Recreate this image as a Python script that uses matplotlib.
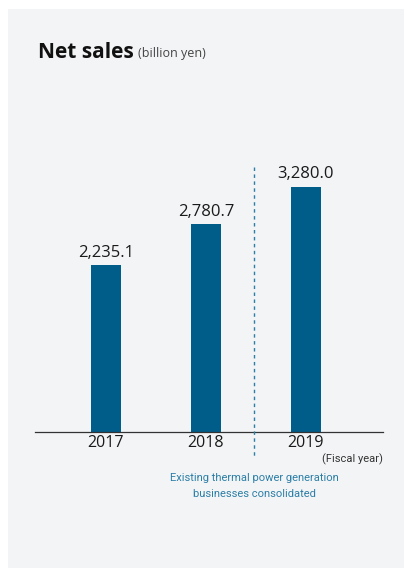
import matplotlib
matplotlib.use("Agg")
import matplotlib.pyplot as plt
from matplotlib.patches import Rectangle
from matplotlib import font_manager

years = ["2017", "2018", "2019"]
net_sales = [2235.1, 2780.7, 3280.0]
value_labels = ["2,235.1", "2,780.7", "3,280.0"]
note_lines = ["Existing thermal power generation", "businesses consolidated"]

BAR = "#005d8a"
NOTE = "#2b7ea6"
W, H = 405, 569

plt.rcParams['font.family'] = ['Open Sans', 'DejaVu Sans']

# narrow face for the small notes, if one is around
names = {f.name for f in font_manager.fontManager.ttflist}
narrow = "Liberation Sans Narrow" if "Liberation Sans Narrow" in names else "Roboto"
cond = [narrow, 'DejaVu Sans']
note_size = 9 if narrow == "Liberation Sans Narrow" else 8

fig = plt.figure(figsize=(W / 100, H / 100), dpi=100)
fig.patch.set_facecolor("white")
fig.patches.append(Rectangle((8 / W, 1 - 568 / H), 396 / W, 559 / H,
                             transform=fig.transFigure, facecolor="#f3f4f6",
                             edgecolor="none", zorder=-5))

ax = fig.add_axes([35 / W, 137 / H, 348 / W, 332 / H])
ax.set_zorder(2)
ax.set_facecolor("none")
x = range(len(years))
ax.bar(x, net_sales, width=0.3, color=BAR, zorder=2)
ax.set_xlim(-0.71, 2.77)
ax.set_ylim(0, 4444)

for i, (v, lab) in enumerate(zip(net_sales, value_labels)):
    ax.text(i, v + 60, lab, ha="center", va="bottom", fontsize=12, color="#1a1a1a")

for s in ["top", "right", "left"]:
    ax.spines[s].set_visible(False)
ax.spines["bottom"].set_color("#333333")
ax.spines["bottom"].set_linewidth(0.9)
ax.set_yticks([])
ax.set_xticks(list(x))
ax.set_xticklabels(years, fontsize=11.5, color="#1a1a1a")
ax.tick_params(axis="x", length=0, pad=2)

# dashed divider before consolidation year
ax.plot([1.48, 1.48], [3548, -350], ls=(0, (2.5, 2.5)), lw=1, color=NOTE,
        clip_on=False, zorder=3)

ax.text(2.77, -370, "(Fiscal year)", ha="right", va="center", fontsize=note_size,
        color="#333333", family=cond)
ax.text(1.48, -620, note_lines[0], ha="center", va="center", fontsize=note_size,
        color=NOTE, family=cond)
ax.text(1.48, -835, note_lines[1], ha="center", va="center", fontsize=note_size,
        color=NOTE, family=cond)

title = fig.text(38 / W, 1 - 52 / H, "Net sales", fontsize=15, fontweight="bold",
                 color="#111111", va="center", ha="left", zorder=3)
fig.canvas.draw()
bb = title.get_window_extent()
fig.text((bb.x1 + 4) / W, 1 - 54 / H, "(billion yen)", fontsize=9,
         color="#444444", va="center", ha="left", zorder=3)

fig.savefig("out.png", dpi=100)
